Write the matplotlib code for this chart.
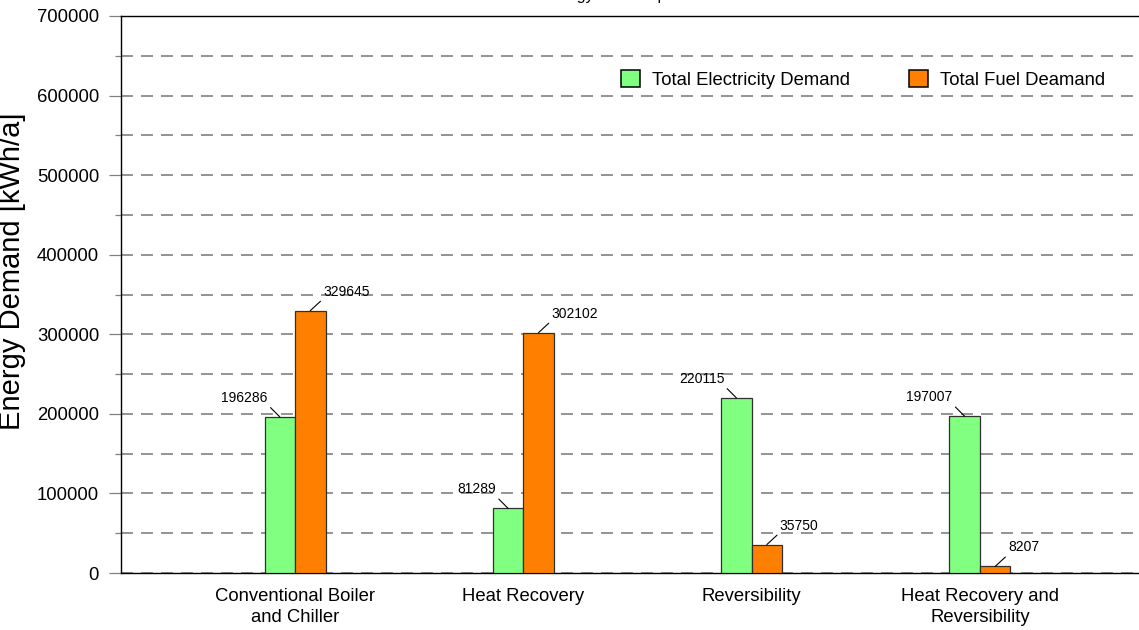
import matplotlib
matplotlib.use('Agg')
import matplotlib.pyplot as plt
import numpy as np
from matplotlib.ticker import MultipleLocator, FuncFormatter

# ---- data ----
categories = ['Conventional Boiler\nand Chiller', 'Heat Recovery',
              'Reversibility', 'Heat Recovery and\nReversibility']
electricity = [196286, 81289, 220115, 197007]
fuel = [329645, 302102, 35750, 8207]
series_names = ['Total Electricity Demand', 'Total Fuel Deamand']
y_major = [0, 100000, 200000, 300000, 400000, 500000, 600000, 700000]
title = 'Energy Consumption'
ylabel = 'Energy Demand [kWh/a]'

plt.rcParams['font.family'] = ['Liberation Sans', 'DejaVu Sans']
plt.rcParams['lines.scale_dashes'] = False

W, H = 1139, 630
fig = plt.figure(figsize=(W / 100, H / 100), dpi=100)

ax_left_px, ax_top_px, ax_bot_px = 121, 16, 573
ax_w_frac = 1.03 - ax_left_px / W
ax = fig.add_axes([ax_left_px / W, 1 - ax_bot_px / H, ax_w_frac,
                   (ax_bot_px - ax_top_px) / H])

# x layout (pixels -> category units)
first_center_px, spacing_px = 295, 228.3
ax_w_px = ax_w_frac * W
x = np.arange(len(categories))
xl = -(first_center_px - ax_left_px) / spacing_px
xr = (ax_left_px + ax_w_px - first_center_px) / spacing_px
bw = 30.5 / spacing_px

b1 = ax.bar(x - bw / 2, electricity, bw, color='#80FF80', edgecolor='#303030',
            linewidth=0.9, label=series_names[0], zorder=3)
b2 = ax.bar(x + bw / 2, fuel, bw, color='#FF8000', edgecolor='#303030',
            linewidth=0.9, label=series_names[1], zorder=3)

for xi, v in zip(x, electricity):
    ax.annotate(f'{v}', xy=(xi - bw / 2, v), xytext=(-12, 12),
                textcoords='offset pixels', ha='right', va='bottom', fontsize=10,
                arrowprops=dict(arrowstyle='-', color='black', lw=0.8,
                                shrinkA=0, shrinkB=0, relpos=(1, 0)), zorder=5)
for xi, v in zip(x, fuel):
    ax.annotate(f'{v}', xy=(xi + bw / 2, v), xytext=(13, 12),
                textcoords='offset pixels', ha='left', va='bottom', fontsize=10,
                arrowprops=dict(arrowstyle='-', color='black', lw=0.8,
                                shrinkA=0, shrinkB=0, relpos=(0, 0)), zorder=5)

ax.set_xlim(xl, xr)
ax.set_ylim(y_major[0], y_major[-1])
ax.set_yticks(y_major)
ax.yaxis.set_minor_locator(MultipleLocator(50000))
ax.yaxis.set_major_formatter(FuncFormatter(lambda v, p: f'{int(v)}'))
ax.set_xticks(x)
ax.set_xticklabels(categories, fontsize=13.3, linespacing=1.3)

ax.set_axisbelow(True)
ax.grid(axis='y', which='both', color='#808080', linewidth=1.2,
        linestyle=(0, (8.6, 5.8)), zorder=0)

ax.tick_params(axis='y', which='major', length=8.64, width=0.9,
               color='#808080', pad=7.2, labelsize=13.3)
ax.tick_params(axis='y', which='minor', length=4.32, width=0.9, color='#808080')
ax.tick_params(axis='x', length=0, pad=11.0)

for s in ['left', 'top', 'bottom']:
    ax.spines[s].set_color('black')
    ax.spines[s].set_linewidth(1.0)
ax.spines['right'].set_visible(False)

leg = ax.legend(ncol=2, loc='center left', bbox_to_anchor=(621 / W, 1 - 79.5 / H),
                bbox_transform=fig.transFigure, frameon=False, fontsize=13.3,
                handlelength=1.03, handleheight=1.03, handletextpad=0.65,
                columnspacing=3.2, borderpad=0, borderaxespad=0)
for t in leg.get_texts():
    t.set_bbox(dict(facecolor='white', edgecolor='none', pad=4))
for p in leg.get_patches():
    p.set_edgecolor('black')
    p.set_linewidth(1.1)

fig.text(618 / W, 1.0, title, ha='center', va='baseline', fontsize=11.5)
fig.text(26 / W, 1 - 271.5 / H, ylabel, rotation=90, ha='right', va='center',
         fontsize=21)

fig.savefig('out.png', dpi=100)
